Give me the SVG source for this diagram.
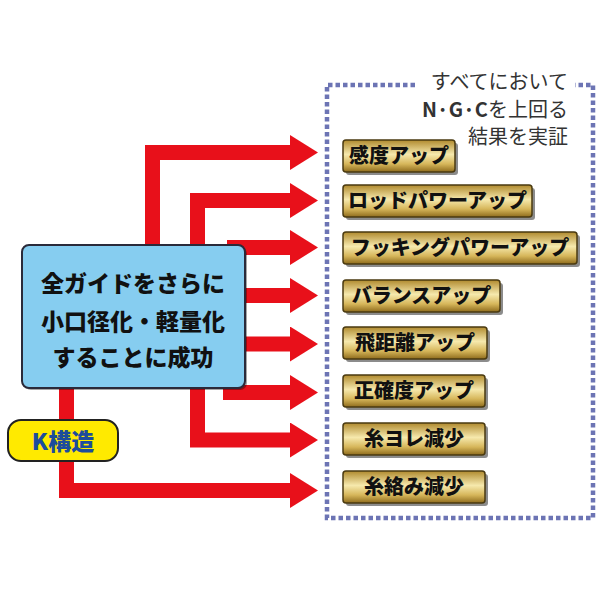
<svg xmlns="http://www.w3.org/2000/svg" width="600" height="600" viewBox="0 0 600 600">
<defs>
<style>
.conn{fill:none;stroke:#e8101a;stroke-width:15;stroke-linejoin:miter;stroke-linecap:butt}
.gold{fill:url(#goldg);stroke:#4a3a10;stroke-width:1.5}
.shd{fill:#000;opacity:0.45}
.gt{font-family:"Noto Sans CJK JP","Noto Sans",sans-serif;font-weight:900;font-size:20px;fill:#111;text-anchor:middle}
.bt{font-family:"Noto Sans CJK JP","Noto Sans",sans-serif;font-weight:900;font-size:23px;fill:#111;text-anchor:middle}
.tt{font-family:"Noto Sans CJK JP","Noto Sans",sans-serif;font-size:20px;fill:#333;text-anchor:end}
</style>
<linearGradient id="goldg" x1="0" y1="0" x2="0" y2="1">
<stop offset="0" stop-color="#b08a2e"/>
<stop offset="0.45" stop-color="#f6e9ad"/>
<stop offset="0.75" stop-color="#d6b65a"/>
<stop offset="1" stop-color="#8e6b1c"/>
</linearGradient>
<marker id="ah" markerUnits="userSpaceOnUse" markerWidth="30" markerHeight="36" refX="1" refY="17.5" orient="auto">
<path d="M0,0 L28,17.5 L0,35 Z" fill="#e8101a"/>
</marker>
</defs>
<rect width="600" height="600" fill="#fff"/>

<path d="M415,85 L327,85 L327,518 L593,518 L593,85 L575,85" fill="none" stroke="#6c74b4" stroke-width="4.5" stroke-dasharray="4.5 3"/>
<g id="title">
<text class="tt" x="568" y="89">すべてにおいて</text>
<text class="tt" x="568" y="117"><tspan font-weight="bold">N·G·C</tspan>を上回る</text>
<text class="tt" x="568" y="144">結果を実証</text>
</g>

<g id="connectors">
<polyline class="conn" points="152.5,250 152.5,152.5 291,152.5" marker-end="url(#ah)"/>
<polyline class="conn" points="197.5,250 197.5,200.5 291,200.5" marker-end="url(#ah)"/>
<polyline class="conn" points="227,247.5 291,247.5" marker-end="url(#ah)"/>
<polyline class="conn" points="240,295.5 291,295.5" marker-end="url(#ah)"/>
<polyline class="conn" points="240,344 291,344" marker-end="url(#ah)"/>
<polyline class="conn" points="223,392.5 291,392.5" marker-end="url(#ah)"/>
<polyline class="conn" points="197.5,385 197.5,440 291,440" marker-end="url(#ah)"/>
<polyline class="conn" points="66.5,385 66.5,490.5 291,490.5" marker-end="url(#ah)"/>
</g>

<g id="main">
<rect x="24" y="247" width="223" height="143" rx="7" fill="#000" opacity="0.35"/>
<rect x="22" y="245" width="223" height="143" rx="7" fill="#86cdf0" stroke="#2a2a3a" stroke-width="2"/>
<text class="bt" x="133" y="292">全ガイドをさらに</text>
<text class="bt" x="133" y="330">小口径化・軽量化</text>
<text class="bt" x="133" y="366">することに成功</text>
</g>

<g id="kkozo">
<rect x="8" y="420" width="110" height="41" rx="13" fill="#ffea00" stroke="#222" stroke-width="2"/>
<text x="63" y="449.5" font-family="'Noto Sans CJK JP','Noto Sans',sans-serif" font-weight="900" font-size="23" fill="#1c4c9c" text-anchor="middle">K構造</text>
</g>

<g id="n1"><rect class="shd" x="346" y="143" width="112" height="32" rx="3"/><rect class="gold" x="343" y="140" width="112" height="32" rx="3"/><text class="gt" x="399" y="163">感度アップ</text></g>
<g id="n2"><rect class="shd" x="346" y="188" width="189" height="32" rx="3"/><rect class="gold" x="343" y="185" width="189" height="32" rx="3"/><text class="gt" x="437.5" y="208">ロッドパワーアップ</text></g>
<g id="n3"><rect class="shd" x="346" y="235" width="234" height="32" rx="3"/><rect class="gold" x="343" y="232" width="234" height="32" rx="3"/><text class="gt" x="460" y="255">フッキングパワーアップ</text></g>
<g id="n4"><rect class="shd" x="346" y="283" width="157" height="32" rx="3"/><rect class="gold" x="343" y="280" width="157" height="32" rx="3"/><text class="gt" x="421.5" y="303">バランスアップ</text></g>
<g id="n5"><rect class="shd" x="346" y="330" width="144" height="32" rx="3"/><rect class="gold" x="343" y="327" width="144" height="32" rx="3"/><text class="gt" x="415" y="350">飛距離アップ</text></g>
<g id="n6"><rect class="shd" x="346" y="378" width="142" height="32" rx="3"/><rect class="gold" x="343" y="375" width="142" height="32" rx="3"/><text class="gt" x="414" y="398">正確度アップ</text></g>
<g id="n7"><rect class="shd" x="346" y="426" width="142" height="32" rx="3"/><rect class="gold" x="343" y="423" width="142" height="32" rx="3"/><text class="gt" x="414" y="446">糸ヨレ減少</text></g>
<g id="n8"><rect class="shd" x="346" y="474" width="142" height="32" rx="3"/><rect class="gold" x="343" y="471" width="142" height="32" rx="3"/><text class="gt" x="414" y="494">糸絡み減少</text></g>
</svg>
